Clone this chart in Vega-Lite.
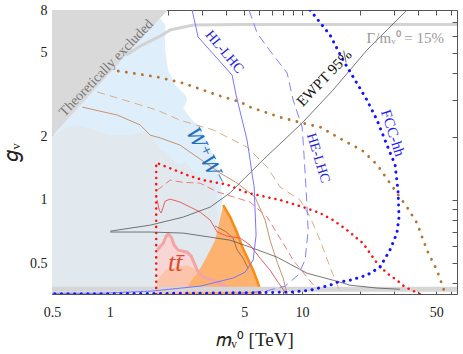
{
  "$schema": "https://vega.github.io/schema/vega-lite/v6.json",
  "width": 405,
  "height": 284,
  "autosize": {"type": "none"},
  "padding": {"left": 52, "top": 10, "right": 6, "bottom": 60},
  "background": "white",
  "config": {"view": {"stroke": null}, "font": "Liberation Serif"},
  "datasets": {
    "blue": [
      {"m":0.5,"g":2.0},{"m":1.83,"g":7.3},{"m":1.94,"g":6.79},{"m":1.94,"g":5.16},{"m":2.01,"g":4.14},{"m":2.19,"g":3.52},{"m":2.47,"g":3.15},{"m":2.53,"g":2.98},{"m":2.41,"g":2.73},{"m":2.62,"g":2.45},{"m":2.95,"g":2.20},{"m":3.25,"g":1.82},{"m":3.53,"g":1.55},{"m":3.75,"g":1.31},{"m":3.84,"g":1.0},{"m":3.75,"g":0.757},{"m":3.41,"g":0.576},{"m":2.95,"g":0.462},{"m":2.62,"g":0.392},{"m":2.47,"g":0.356},{"m":0.5,"g":0.356}
    ],
    "grey": [
      {"m":0.5,"g":1.99},{"m":0.601,"g":2.22},{"m":0.677,"g":2.27},{"m":0.763,"g":2.20},{"m":0.891,"g":2.10},{"m":1.005,"g":2.03},{"m":1.232,"g":2.03},{"m":1.492,"g":2.10},{"m":1.682,"g":1.97},{"m":1.828,"g":1.72},{"m":1.941,"g":1.69},{"m":2.11,"g":1.55},{"m":2.27,"g":1.47},{"m":2.47,"g":1.50},{"m":2.72,"g":1.36},{"m":2.95,"g":1.28},{"m":3.33,"g":1.27},{"m":3.53,"g":1.18},{"m":3.62,"g":0.893},{"m":3.57,"g":0.679},{"m":3.33,"g":0.545},{"m":2.95,"g":0.452},{"m":2.62,"g":0.392},{"m":2.47,"g":0.356},{"m":0.5,"g":0.356}
    ],
    "tri": [{"m":0.5,"g":2.0},{"m":2.0,"g":8.0},{"m":0.5,"g":8.0}],
    "pink": [
      {"m":1.764,"g":0.576},{"m":1.896,"g":0.621},{"m":1.965,"g":0.671},{"m":2.012,"g":0.686},{"m":2.087,"g":0.664},{"m":2.163,"g":0.608},{"m":2.27,"g":0.576},{"m":2.53,"g":0.563},{"m":2.65,"g":0.539},{"m":2.85,"g":0.462},{"m":3.06,"g":0.428},{"m":3.45,"g":0.414},{"m":4.08,"g":0.384},{"m":4.6,"g":0.359}
    ],
    "salmon": [
      {"m":1.764,"g":0.356},{"m":1.764,"g":0.414},{"m":1.94,"g":0.462},{"m":2.24,"g":0.478},{"m":2.53,"g":0.488},{"m":2.85,"g":0.462},{"m":3.25,"g":0.452},{"m":3.57,"g":0.47},{"m":3.9,"g":0.47},{"m":4.0,"g":0.40},{"m":4.3,"g":0.356}
    ],
    "orange": [
      {"m":3.89,"g":0.943},{"m":4.23,"g":0.827},{"m":4.6,"g":0.694},{"m":4.89,"g":0.595},{"m":5.18,"g":0.533},{"m":5.57,"g":0.462},{"m":5.91,"g":0.401},{"m":6.13,"g":0.356},{"m":2.41,"g":0.356},{"m":2.62,"g":0.405},{"m":2.85,"g":0.447},{"m":3.06,"g":0.499},{"m":3.33,"g":0.576},{"m":3.53,"g":0.642},{"m":3.66,"g":0.741}
    ],
    "orangeEdge": [
      {"m":3.89,"g":0.943},{"m":4.23,"g":0.827},{"m":4.6,"g":0.694},{"m":4.89,"g":0.595},{"m":5.18,"g":0.533},{"m":5.57,"g":0.462},{"m":5.91,"g":0.401},{"m":6.13,"g":0.356}
    ],
    "band": [{"m":0.5,"g":0.375},{"m":64.1,"g":0.375}],
    "gamma": [
      {"m":1.22,"g":4.88},{"m":1.438,"g":5.39},{"m":1.828,"g":6.01},{"m":2.06,"g":6.43},{"m":2.72,"g":6.79},{"m":4.77,"g":6.82},{"m":64.1,"g":6.82}
    ],
    "brownSolid": [
      {"m":0.719,"g":2.76},{"m":1.093,"g":2.53},{"m":1.438,"g":2.27},{"m":1.621,"g":2.03},{"m":1.828,"g":1.97},{"m":2.32,"g":1.82},{"m":3.75,"g":1.34},{"m":4.6,"g":1.2},{"m":5.7,"g":1.03},{"m":6.43,"g":0.8},{"m":6.82,"g":0.642},{"m":7.43,"g":0.505},{"m":7.98,"g":0.424},{"m":8.37,"g":0.356}
    ],
    "brownSquiggle": [
      {"m":3.53,"g":0.75},{"m":3.98,"g":0.709},{"m":4.38,"g":0.657},{"m":4.6,"g":0.576},{"m":4.94,"g":0.527},{"m":5.24,"g":0.472}
    ],
    "brownDashed": [
      {"m":0.86,"g":3.26},{"m":1.764,"g":2.67},{"m":2.32,"g":2.39},{"m":3.45,"g":2.15},{"m":5.18,"g":1.78},{"m":6.59,"g":1.43},{"m":7.69,"g":1.15},{"m":9.78,"g":0.997},{"m":11.02,"g":0.827},{"m":12.42,"g":0.642},{"m":14.0,"g":0.478},{"m":15.78,"g":0.363}
    ],
    "brownDotted": [
      {"m":1.106,"g":4.10},{"m":1.764,"g":3.84},{"m":2.41,"g":3.59},{"m":3.62,"g":3.15},{"m":4.77,"g":2.92},{"m":5.37,"g":2.76},{"m":7.69,"g":2.47},{"m":11.02,"g":2.27},{"m":12.42,"g":2.22},{"m":16.36,"g":1.92},{"m":20.54,"g":1.72},{"m":24.6,"g":1.47},{"m":28.7,"g":1.20},{"m":35.2,"g":0.923},{"m":39.7,"g":0.774},{"m":44.7,"g":0.576},{"m":50.4,"g":0.462},{"m":54.2,"g":0.384},{"m":55.5,"g":0.356}
    ],
    "redSolid": [
      {"m":1.764,"g":0.997},{"m":1.807,"g":0.893},{"m":1.85,"g":0.864},{"m":1.941,"g":0.986},{"m":2.06,"g":1.007},{"m":2.32,"g":0.975},{"m":2.95,"g":0.874},{"m":3.33,"g":0.8},{"m":3.62,"g":0.702},{"m":4.08,"g":0.671},{"m":4.77,"g":0.657},{"m":5.37,"g":0.608},{"m":6.05,"g":0.527},{"m":6.82,"g":0.462},{"m":7.51,"g":0.405},{"m":8.17,"g":0.363}
    ],
    "redDashed": [
      {"m":1.764,"g":1.11},{"m":2.06,"g":1.24},{"m":2.41,"g":1.21},{"m":2.95,"g":1.20},{"m":3.62,"g":1.09},{"m":5.37,"g":0.975},{"m":6.59,"g":0.827},{"m":7.98,"g":0.621},{"m":9.0,"g":0.516},{"m":10.63,"g":0.428},{"m":11.7,"g":0.384}
    ],
    "redDotted": [
      {"m":1.743,"g":0.356},{"m":1.743,"g":1.50},{"m":1.99,"g":1.43},{"m":2.53,"g":1.31},{"m":3.06,"g":1.24},{"m":4.08,"g":1.18},{"m":5.18,"g":1.08},{"m":7.69,"g":0.997},{"m":10.14,"g":0.923},{"m":12.42,"g":0.864},{"m":14.52,"g":0.8},{"m":17.17,"g":0.717},{"m":20.78,"g":0.621},{"m":24.6,"g":0.499},{"m":27.7,"g":0.447},{"m":31.2,"g":0.414},{"m":34.4,"g":0.384},{"m":41.1,"g":0.356}
    ],
    "ewpt": [
      {"m":1.005,"g":0.709},{"m":1.621,"g":0.757},{"m":2.41,"g":0.827},{"m":3.33,"g":0.923},{"m":4.23,"g":1.08},{"m":6.28,"g":1.55},{"m":10.02,"g":2.32},{"m":14.52,"g":3.33},{"m":21.8,"g":5.16},{"m":35.2,"g":8.0}
    ],
    "black2": [
      {"m":1.005,"g":0.702},{"m":1.621,"g":0.702},{"m":2.41,"g":0.694},{"m":3.33,"g":0.664},{"m":4.23,"g":0.642},{"m":5.37,"g":0.595},{"m":7.43,"g":0.533},{"m":10.63,"g":0.447},{"m":14.52,"g":0.414},{"m":17.79,"g":0.392},{"m":24.6,"g":0.38},{"m":32.4,"g":0.375}
    ],
    "hllhc": [
      {"m":2.68,"g":8.0},{"m":2.88,"g":5.95},{"m":4.33,"g":3.92},{"m":4.54,"g":3.15},{"m":5.18,"g":1.92},{"m":5.37,"g":1.55},{"m":5.51,"g":1.31},{"m":5.64,"g":1.15},{"m":5.7,"g":0.893},{"m":5.77,"g":0.679},{"m":5.57,"g":0.516},{"m":5.06,"g":0.452},{"m":4.38,"g":0.424},{"m":2.95,"g":0.388},{"m":1.62,"g":0.367},{"m":0.891,"g":0.359},{"m":0.5,"g":0.359}
    ],
    "helhc": [
      {"m":5.3,"g":8.0},{"m":5.84,"g":6.22},{"m":6.59,"g":5.33},{"m":7.43,"g":4.62},{"m":8.37,"g":4.01},{"m":9.0,"g":2.98},{"m":10.02,"g":2.22},{"m":10.25,"g":1.63},{"m":10.51,"g":1.11},{"m":10.77,"g":0.717},{"m":10.38,"g":0.516},{"m":9.54,"g":0.438},{"m":8.17,"g":0.388},{"m":6.43,"g":0.367},{"m":4.77,"g":0.359}
    ],
    "fcc": [
      {"m":11.02,"g":8.0},{"m":14.0,"g":6.08},{"m":16.36,"g":4.62},{"m":18.89,"g":3.71},{"m":21.8,"g":2.98},{"m":24.6,"g":2.39},{"m":27.7,"g":1.82},{"m":30.5,"g":1.47},{"m":31.6,"g":1.11},{"m":32.0,"g":0.827},{"m":31.2,"g":0.694},{"m":28.7,"g":0.576},{"m":25.5,"g":0.478},{"m":21.8,"g":0.438},{"m":17.79,"g":0.414},{"m":15.23,"g":0.405},{"m":14.0,"g":0.392},{"m":11.02,"g":0.371},{"m":8.67,"g":0.363},{"m":2.95,"g":0.359},{"m":0.891,"g":0.357},{"m":0.5,"g":0.357}
    ],
    "labels": [
      {"t":"Theoretically excluded","m":0.958,"g":4.23},
      {"t":"HL-LHC","m":3.94,"g":5.05},
      {"t":"HE-LHC","m":12.13,"g":1.58},
      {"t":"FCC-hh","m":29.8,"g":2.08},
      {"t":"EWPT 95%","m":13.03,"g":3.80},
      {"t":"Γ/mᵥ⁰ = 15%","m":34.5,"g":5.88},
      {"t":"W⁺W⁻","m":3.14,"g":1.60},
      {"t":"tt̄","m":2.19,"g":0.50}
    ]
  },
  "layer": [
    {
      "encoding": {
        "x": {"field": "m", "type": "quantitative",
          "scale": {"type": "log", "domain": [0.5, 64.1], "nice": false, "zero": false},
          "axis": {"orient": "bottom", "values": [0.5,0.6,0.7,0.8,0.9,1,2,3,4,5,6,7,8,9,10,20,30,40,50,60],
            "tickSize": -5, "labelPadding": 16, "labelOverlap": false, "labelFlush": false,
            "labelExpr": "indexof([0.5,1,5,10,50], datum.value) >= 0 ? format(datum.value, '~g') : ''",
            "labelFontSize": 14, "labelFont": "Liberation Serif", "labelColor": "#222",
            "domainColor": "#555", "tickColor": "#555", "grid": false,
            "title": "𝑚ᵥ⁰ [TeV]", "titleFontSize": 19, "titleFontWeight": "normal", "titleFont": "Liberation Serif", "titleColor": "#222", "titlePadding": 11}},
        "y": {"field": "g", "type": "quantitative",
          "scale": {"type": "log", "domain": [0.356, 8], "nice": false, "zero": false},
          "axis": {"orient": "left", "values": [0.4,0.5,0.6,0.7,0.8,0.9,1,2,3,4,5,6,7,8],
            "tickSize": -5, "labelPadding": 10, "labelOverlap": false, "labelFlush": false,
            "labelExpr": "indexof([0.5,1,2,5,8], datum.value) >= 0 ? format(datum.value, '~g') : ''",
            "labelFontSize": 14, "labelFont": "Liberation Serif", "labelColor": "#222",
            "domainColor": "#555", "tickColor": "#555", "grid": false,
            "title": "𝑔ᵥ", "titleFontSize": 21, "titleFontWeight": "normal", "titleFont": "Liberation Serif", "titleColor": "#222", "titlePadding": 8}}
      },
      "layer": [
        {"data": {"name": "blue"}, "mark": {"type": "line", "fill": "#deeefb", "stroke": null, "strokeWidth": 0, "clip": true}, "encoding": {"order": {"value": null}}},
        {"data": {"name": "grey"}, "mark": {"type": "line", "fill": "#e1e8ee", "stroke": null, "strokeWidth": 0, "clip": true}, "encoding": {"order": {"value": null}}},
        {"data": {"name": "tri"}, "mark": {"type": "line", "fill": "#d9d9d9", "stroke": null, "strokeWidth": 0, "clip": true}, "encoding": {"order": {"value": null}}},
        {"data": {"name": "pink"}, "mark": {"type": "area", "color": "#f9d6d6", "clip": true}, "encoding": {"y2": {"datum": 0.356}}},
        {"data": {"name": "salmon"}, "mark": {"type": "line", "fill": "#fcc4aa", "stroke": null, "strokeWidth": 0, "clip": true}, "encoding": {"order": {"value": null}}},
        {"data": {"name": "orange"}, "mark": {"type": "line", "fill": "#fdb270", "stroke": null, "strokeWidth": 0, "clip": true}, "encoding": {"order": {"value": null}}},
        {"data": {"name": "orangeEdge"}, "mark": {"type": "line", "color": "#ff8a10", "strokeWidth": 2.5, "clip": true}, "encoding": {"order": {"value": null}}},
        {"data": {"name": "pink"}, "mark": {"type": "line", "color": "#f4a4a4", "strokeWidth": 3, "clip": true}, "encoding": {"order": {"value": null}}},
        {"data": {"name": "band"}, "mark": {"type": "line", "color": "#d6d6d6", "strokeWidth": 5, "clip": true}, "encoding": {"order": {"value": null}}},
        {"data": {"name": "gamma"}, "mark": {"type": "line", "color": "#d3d3d3", "strokeWidth": 3, "clip": true}, "encoding": {"order": {"value": null}}},
        {"data": {"name": "brownSolid"}, "mark": {"type": "line", "color": "#c8946a", "strokeWidth": 1, "clip": true}, "encoding": {"order": {"value": null}}},
        {"data": {"name": "brownSquiggle"}, "mark": {"type": "line", "color": "#9a5a2a", "strokeWidth": 0.8, "clip": true}, "encoding": {"order": {"value": null}}},
        {"data": {"name": "brownDashed"}, "mark": {"type": "line", "color": "#dcae84", "strokeWidth": 1, "strokeDash": [8, 5], "clip": true}, "encoding": {"order": {"value": null}}},
        {"data": {"name": "brownDotted"}, "mark": {"type": "line", "color": "#b8712c", "strokeWidth": 2.8, "strokeDash": [0.1, 8], "strokeCap": "round", "clip": true}, "encoding": {"order": {"value": null}}},
        {"data": {"name": "redSolid"}, "mark": {"type": "line", "color": "#ea5f5f", "strokeWidth": 1, "clip": true}, "encoding": {"order": {"value": null}}},
        {"data": {"name": "redDashed"}, "mark": {"type": "line", "color": "#f07b7b", "strokeWidth": 1, "strokeDash": [7, 4], "clip": true}, "encoding": {"order": {"value": null}}},
        {"data": {"name": "redDotted"}, "mark": {"type": "line", "color": "#ff1010", "strokeWidth": 2.5, "strokeDash": [0.1, 6], "strokeCap": "round", "clip": true}, "encoding": {"order": {"value": null}}},
        {"data": {"name": "ewpt"}, "mark": {"type": "line", "color": "#555555", "strokeWidth": 0.8, "clip": true}, "encoding": {"order": {"value": null}}},
        {"data": {"name": "black2"}, "mark": {"type": "line", "color": "#555555", "strokeWidth": 0.8, "clip": true}, "encoding": {"order": {"value": null}}},
        {"data": {"name": "hllhc"}, "mark": {"type": "line", "color": "#7777ff", "strokeWidth": 1, "clip": true}, "encoding": {"order": {"value": null}}},
        {"data": {"name": "helhc"}, "mark": {"type": "line", "color": "#8080ff", "strokeWidth": 1, "strokeDash": [9, 5], "clip": true}, "encoding": {"order": {"value": null}}},
        {"data": {"name": "fcc"}, "mark": {"type": "line", "color": "#1414ff", "strokeWidth": 3, "strokeDash": [0.1, 6.5], "strokeCap": "round", "clip": true}, "encoding": {"order": {"value": null}}},
        {"data": {"name": "labels"}, "transform": [{"filter": "datum.t == 'Theoretically excluded'"}], "mark": {"type": "text", "angle": -46, "fontSize": 14, "font": "Liberation Serif", "color": "#7a7a7a"}, "encoding": {"text": {"field": "t"}}},
        {"data": {"name": "labels"}, "transform": [{"filter": "datum.t == 'HL-LHC'"}], "mark": {"type": "text", "angle": 50, "fontSize": 14, "font": "Liberation Serif", "color": "#2424e0"}, "encoding": {"text": {"field": "t"}}},
        {"data": {"name": "labels"}, "transform": [{"filter": "datum.t == 'HE-LHC'"}], "mark": {"type": "text", "angle": 73, "fontSize": 14, "font": "Liberation Serif", "color": "#2424e0"}, "encoding": {"text": {"field": "t"}}},
        {"data": {"name": "labels"}, "transform": [{"filter": "datum.t == 'FCC-hh'"}], "mark": {"type": "text", "angle": 72, "fontSize": 15, "font": "Liberation Serif", "color": "#1a1aff"}, "encoding": {"text": {"field": "t"}}},
        {"data": {"name": "labels"}, "transform": [{"filter": "datum.t == 'EWPT 95%'"}], "mark": {"type": "text", "angle": -46, "fontSize": 15, "font": "Liberation Serif", "color": "#111111"}, "encoding": {"text": {"field": "t"}}},
        {"data": {"name": "labels"}, "transform": [{"filter": "indexof(datum.t, '15%') >= 0"}], "mark": {"type": "text", "fontSize": 15, "font": "Liberation Serif", "color": "#9a9a9a"}, "encoding": {"text": {"field": "t"}}},
        {"data": {"name": "labels"}, "transform": [{"filter": "indexof(datum.t, 'W') == 0"}], "mark": {"type": "text", "angle": 63, "fontSize": 20, "fontStyle": "italic", "font": "DejaVu Serif", "color": "#1f6fbf"}, "encoding": {"text": {"field": "t"}}},
        {"data": {"name": "labels"}, "transform": [{"filter": "indexof(datum.t, 't') == 0"}], "mark": {"type": "text", "fontSize": 26, "fontStyle": "italic", "font": "Liberation Serif", "color": "#e04a26"}, "encoding": {"text": {"field": "t"}}}
      ]
    },
    {
      "data": {"name": "tri"},
      "mark": {"type": "point", "opacity": 0},
      "encoding": {
        "x": {"field": "m", "type": "quantitative",
          "axis": {"orient": "top", "values": [0.6,0.7,0.8,0.9,1,2,3,4,5,6,7,8,9,10,20,30,40,50,60], "tickSize": -5, "labels": false, "title": null, "domainColor": "#555", "tickColor": "#555", "grid": false}},
        "y": {"field": "g", "type": "quantitative",
          "axis": {"orient": "right", "values": [0.4,0.5,0.6,0.7,0.8,0.9,1,2,3,4,5,6,7], "tickSize": -5, "labels": false, "title": null, "domainColor": "#555", "tickColor": "#555", "grid": false}}
      }
    }
  ],
  "resolve": {"axis": {"x": "independent", "y": "independent"}}
}
